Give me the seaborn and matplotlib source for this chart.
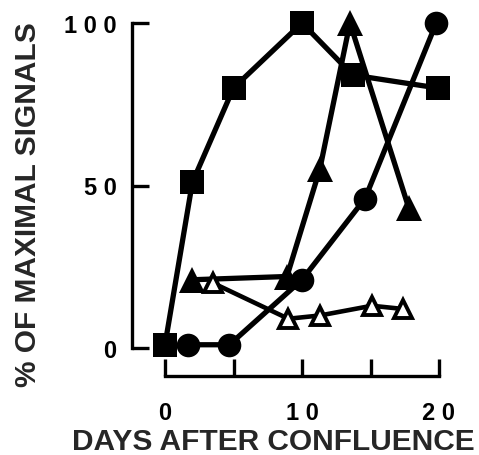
import matplotlib
matplotlib.use("Agg")
import matplotlib.pyplot as plt
import seaborn as sns
import pandas as pd

# days after confluence / % of maximal signal
sq_days = [0, 2, 5, 10, 13.7, 19.9]
sq_pct = [1, 51, 80, 100, 84, 80]

circ_days = [1.7, 4.7, 10, 14.6, 19.8]
circ_pct = [1, 1, 21, 46, 100]

tri_days = [2, 8.9, 11.3, 13.5, 17.8]
tri_pct = [21, 22, 55, 100, 43]

otri_days = [3.5, 9, 11.3, 15.1, 17.4]
otri_pct = [20, 9, 10, 13, 12]

xticks = [0, 5, 10, 15, 20]
xticklabels = ['0', '', '1 0', '', '2 0']
yticks = [0, 50, 100]
yticklabels = ['0', '5 0', '1 0 0']

sns.set_style("ticks")
plt.rcParams['font.family'] = ['Liberation Sans', 'DejaVu Sans']
plt.rcParams['font.weight'] = 'bold'

fig = plt.figure(figsize=(4.79, 4.56), dpi=100)
# axes box in pixels: left 132, right 470, top 5, bottom 377
ax = fig.add_axes([132/479, 1 - 377/456, (470-132)/479, (377-5)/456])

lw = 3.8
sns.lineplot(x=sq_days, y=sq_pct, ax=ax, color='black', lw=lw, marker='s',
             markersize=17.5, markeredgewidth=0, sort=False)
sns.lineplot(x=circ_days, y=circ_pct, ax=ax, color='black', lw=lw, marker='o',
             markersize=17, markeredgewidth=0, sort=False)
sns.lineplot(x=tri_days, y=tri_pct, ax=ax, color='black', lw=lw, marker='^',
             markersize=19, markeredgewidth=0, sort=False)
sns.lineplot(x=otri_days, y=otri_pct, ax=ax, color='black', lw=3.3, marker='^',
             markersize=13, markeredgewidth=2.8, markerfacecolor='white',
             markeredgecolor='black', sort=False)

ax.set_xlim(-33/13.7, (470-165)/13.7)
ax.set_ylim(-28/3.25, (349-5)/3.25)

ax.spines['right'].set_visible(False)
ax.spines['top'].set_visible(False)
ax.spines['left'].set_bounds(0, 100)
ax.spines['bottom'].set_bounds(0, 20)
for s in ['left', 'bottom']:
    ax.spines[s].set_linewidth(2.4)
    ax.spines[s].set_color('black')

ax.set_xticks(xticks)
ax.set_xticklabels(xticklabels)
ax.set_yticks(yticks)
ax.set_yticklabels(yticklabels)
ax.tick_params(axis='both', direction='in', length=12, width=2.4,
               labelsize=17, colors='black')
ax.tick_params(axis='y', pad=11)
ax.tick_params(axis='x', pad=18)
for t in ax.get_xticklabels() + ax.get_yticklabels():
    t.set_fontweight('bold')

ax.set_xlabel('')
ax.set_ylabel('')
fig.text(273/479, 1 - 442/456, 'DAYS AFTER CONFLUENCE', ha='center', va='center',
         fontsize=21.5, fontweight='bold')
fig.text(28/479, 1 - 205/456, '% OF MAXIMAL SIGNALS', ha='center', va='center',
         rotation=90, fontsize=21.5, fontweight='bold')

fig.savefig('out.png', dpi=100)
